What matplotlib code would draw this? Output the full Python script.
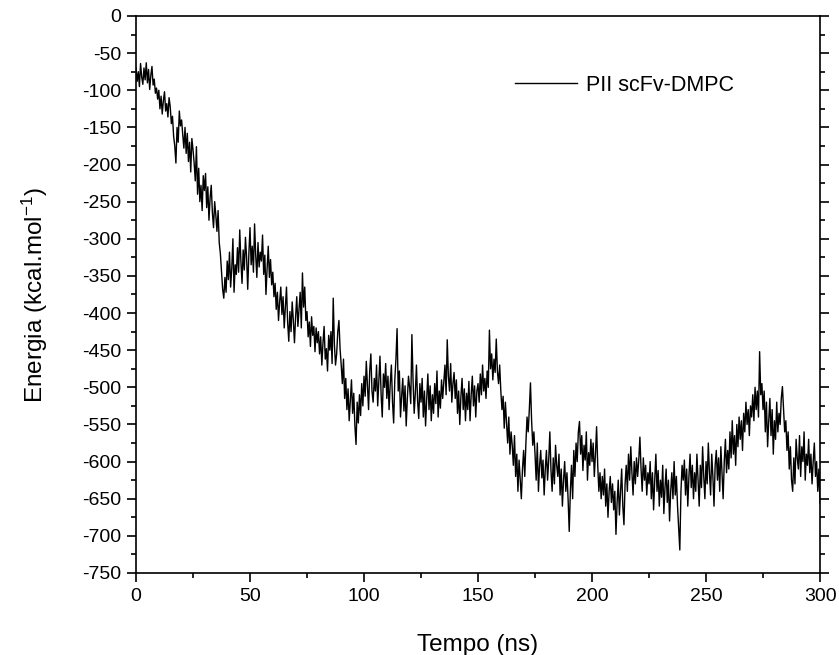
import numpy as np
import matplotlib
matplotlib.use("Agg")
import matplotlib.pyplot as plt
from matplotlib.ticker import MultipleLocator

plt.rcParams['font.family'] = ['Liberation Sans', 'DejaVu Sans']
plt.rcParams['mathtext.fontset'] = 'custom'
plt.rcParams['mathtext.rm'] = 'Liberation Sans'
plt.rcParams['mathtext.it'] = 'Liberation Sans:italic'
plt.rcParams['axes.unicode_minus'] = False

# time step 0.5 ns, 0 .. 300 ns
t_start = 0.0
t_step = 0.5
energy = [
    -70, -88, -75, -95, -64, -82, -92, -70, -86, -63,
    -90, -72, -99, -80, -68, -93, -85, -104, -97, -112,
    -100, -125, -108, -132, -114, -102, -128, -118, -136, -110,
    -122, -145, -135, -162, -175, -198, -150, -170, -128, -148,
    -140, -160, -178, -150, -185, -158, -196, -170, -210, -165,
    -180, -198, -222, -176, -240, -205, -250, -228, -262, -215,
    -235, -212, -258, -230, -275, -245, -228, -265, -285, -250,
    -268, -290, -262, -305, -320, -345, -368, -380, -352, -372,
    -330, -355, -318, -365, -340, -300, -372, -335, -348, -312,
    -345, -288, -330, -360, -315, -342, -298, -325, -368, -320,
    -285, -335, -310, -345, -280, -322, -352, -305, -338, -318,
    -330, -295, -348, -322, -375, -340, -310, -352, -328, -362,
    -345, -378, -360, -395, -372, -410, -385, -365, -402, -378,
    -420, -392, -365, -412, -438, -398, -425, -385, -410, -440,
    -405, -378, -418, -395, -372, -420, -346, -392, -365, -410,
    -398, -432, -412, -445, -405, -430, -418, -452, -420, -440,
    -425, -455, -432, -470, -440, -418, -462, -448, -478, -430,
    -450, -425, -468, -380, -442, -470, -455, -425, -410, -448,
    -470, -495, -462, -515, -488, -530, -502, -545, -518, -490,
    -535, -508, -552, -577, -520, -548, -510, -538, -495, -525,
    -485, -512, -465, -498, -530, -478, -455, -505, -520, -488,
    -505, -470, -525, -492, -458, -510, -540, -482, -500, -468,
    -515, -485, -530, -495, -470, -520, -548, -490, -462, -421,
    -505, -478, -540, -512, -488, -532, -498, -552, -515, -485,
    -500, -522, -429, -490, -535, -508, -470, -518, -542, -495,
    -520, -488, -540, -505, -552, -515, -482, -530, -498, -545,
    -510, -535, -495, -522, -478, -540, -505, -528, -490, -515,
    -492, -470, -510, -436, -485, -505, -468, -520, -495, -480,
    -515, -490, -535, -505, -550, -512, -488, -530, -502, -545,
    -508, -530, -492, -545, -510, -485, -525, -498, -540, -505,
    -495, -520, -482, -510, -470, -505, -488, -515, -478, -500,
    -423, -475, -455, -490, -462, -480, -435, -478, -495, -470,
    -505, -530, -512, -555, -520, -548, -575, -540, -590, -560,
    -578, -605, -565, -620, -590, -640, -598, -625, -650, -610,
    -585, -620, -575, -540, -560, -530, -494, -545, -578, -560,
    -590, -625, -575, -640, -605, -585, -622, -598, -645, -610,
    -585, -625, -598, -560, -612, -640, -595, -630, -578, -605,
    -620, -590, -645, -610, -660, -625, -600, -640, -615, -650,
    -694, -640, -605, -650, -585, -620, -575, -600, -560, -546,
    -590, -565, -612, -578, -598, -560, -625, -588, -605, -570,
    -600, -575, -620, -590, -553, -605, -640, -615, -650, -620,
    -645, -610, -660, -630, -675, -640, -620, -655, -630, -665,
    -640, -698, -655, -625, -672, -640, -610, -660, -685, -630,
    -605, -640, -590, -625, -580, -615, -645, -600, -630, -595,
    -620, -598, -567, -610, -640, -595, -625, -605, -645, -615,
    -630, -600, -650, -615, -665, -625, -590, -640, -612, -660,
    -625, -648, -605, -670, -635, -610, -655, -625, -680, -640,
    -615, -650, -600, -645, -620, -660, -690, -719, -640, -605,
    -625, -598, -645, -610, -660, -620, -590, -635, -605, -650,
    -615, -640, -590, -625, -660, -605, -635, -580, -620, -650,
    -600, -630, -575, -615, -645, -590, -620, -660, -605, -585,
    -625, -595, -640, -580, -615, -650, -600, -570, -615, -585,
    -610, -560, -595, -545, -590, -565, -605, -550, -580, -540,
    -570, -545, -585, -535, -560, -520, -550, -530, -565, -525,
    -540, -510, -545, -500, -530, -505, -540, -452, -510, -495,
    -530, -505, -560, -520, -580, -545, -515, -565, -530, -590,
    -545, -570, -520, -560, -535, -550, -515, -499, -530, -560,
    -545, -585, -560, -610, -580, -625, -640, -595, -630, -570,
    -595, -610, -565, -620, -580, -600, -560, -625, -590, -605,
    -570, -615, -590, -630, -600, -575, -620, -600, -640, -610,
    -656,
]
time = t_start + t_step * np.arange(len(energy))

series_label = "PII scFv-DMPC"
x_label = "Tempo (ns)"
y_label = "Energia (kcal.mol$^{-1}$)"

fig = plt.figure(figsize=(8.39, 6.55), dpi=100)
ax = fig.add_axes([0.1621, 0.1252, 0.8153, 0.8504])
ax.plot(time, energy, color='black', lw=1.0, label=series_label)

ax.set_xlim(0, 300)
ax.set_ylim(-750, 0)
ax.xaxis.set_major_locator(MultipleLocator(50))
ax.xaxis.set_minor_locator(MultipleLocator(25))
ax.yaxis.set_major_locator(MultipleLocator(50))
ax.yaxis.set_minor_locator(MultipleLocator(25))
ax.tick_params(which='major', direction='out', length=6.5, width=1.2, labelsize=14, pad=4)
ax.tick_params(which='minor', direction='out', length=3.5, width=1.2)
ax.tick_params(right=True, which='both', labelright=False)
for s in ax.spines.values():
    s.set_linewidth(1.2)

ax.set_xlabel(x_label, fontsize=17.5, labelpad=21.5)
ax.set_ylabel(y_label, fontsize=17.5, labelpad=23)

ax.legend(loc='center left', bbox_to_anchor=(0.554, 0.876), frameon=False,
          fontsize=15.5, handlelength=2.9, handletextpad=0.42,
          borderaxespad=0, borderpad=0)

fig.savefig("out.png", dpi=100)
